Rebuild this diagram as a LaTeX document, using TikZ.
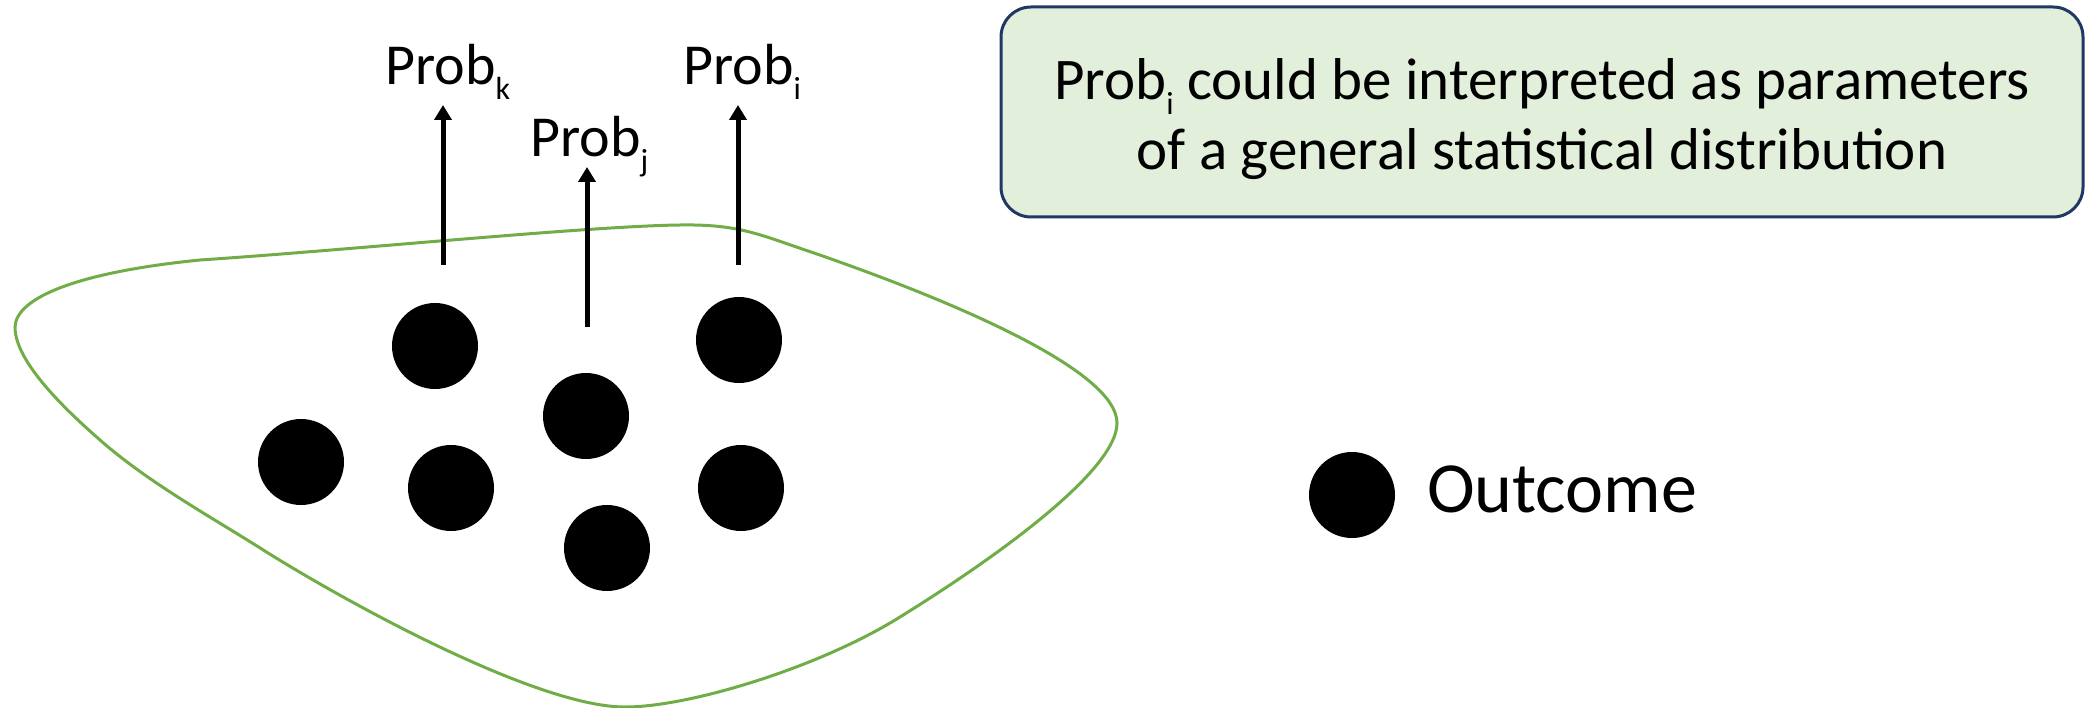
\documentclass[tikz,border=0pt]{standalone}
\usepackage{fontspec}
\setmainfont{Carlito}
\usepackage{tikz}
\usetikzlibrary{arrows.meta,positioning}
\definecolor{blobgreen}{HTML}{70AD47}
\definecolor{notefill}{HTML}{E2EFDA}
\definecolor{noteline}{HTML}{1F3864}
\newcommand{\lowsub}[1]{\raisebox{-15pt}{\fontsize{32}{32}\selectfont #1}}

\begin{document}
\begin{tikzpicture}[x=1pt, y=-1pt]
\tikzstyle{outcome}=[circle, fill=black, inner sep=0pt, minimum size=86pt]
\tikzstyle{prob}=[inner sep=0pt, anchor=base west, font=\fontsize{58}{67}\selectfont]
\tikzstyle{probarrow}=[line width=5pt, -{Triangle[width=17pt,length=15pt]}]
\useasboundingbox (0,0) rectangle (2087,708);
\draw[blobgreen, line width=3pt] (15,327)
  .. controls (16,297) and (80,272) .. (200,260)
  .. controls (350,250) and (590,226) .. (680,225)
  .. controls (740,224) and (760,235) .. (814,253)
  .. controls (950,300) and (1117,370) .. (1117,423)
  .. controls (1117,470) and (1000,555) .. (900,617)
  .. controls (820,667) and (690,707) .. (625,707)
  .. controls (540,707) and (360,610) .. (268,553)
  .. controls (215,519) and (150,484) .. (100,440)
  .. controls (60,405) and (15,360) .. cycle;
\node[outcome] (o1) at (435,346) {};
\node[outcome] (o2) at (739,340) {};
\node[outcome] (o3) at (586,416) {};
\node[outcome] (o4) at (301,462) {};
\node[outcome] (o5) at (451,488) {};
\node[outcome] (o6) at (741,488) {};
\node[outcome] (o7) at (607,548) {};
\node[prob] (probk) at (385,85) {Prob\lowsub{k}};
\node[prob] (probj) at (530,157) {Prob\lowsub{j}};
\node[prob] (probi) at (683,85) {Prob\lowsub{i}};
\coordinate (kfoot) at (443,265);
\coordinate (ktip) at (443,105);
\coordinate (jfoot) at (587,327);
\coordinate (jtip) at (587,167);
\coordinate (ifoot) at (738,265);
\coordinate (itip) at (738,105);
\draw[probarrow] (kfoot) -- (ktip);
\draw[probarrow] (jfoot) -- (jtip);
\draw[probarrow] (ifoot) -- (itip);
\node[draw=noteline, fill=notefill, line width=3pt, rounded corners=30pt,
      minimum width=1082pt, minimum height=210pt] (note) at (1542,112) {};
\node[align=center, font=\fontsize{59}{70}\selectfont] (notetext) at (1542,119)
  {Prob\lowsub{i} could be interpreted as parameters\\of a general statistical distribution};
\node[outcome] (legend) at (1352,495) {};
\node[inner sep=0pt, anchor=base west, font=\fontsize{72}{80}\selectfont] (outlabel) at (1427,512) {Outcome};
\end{tikzpicture}
\end{document}
